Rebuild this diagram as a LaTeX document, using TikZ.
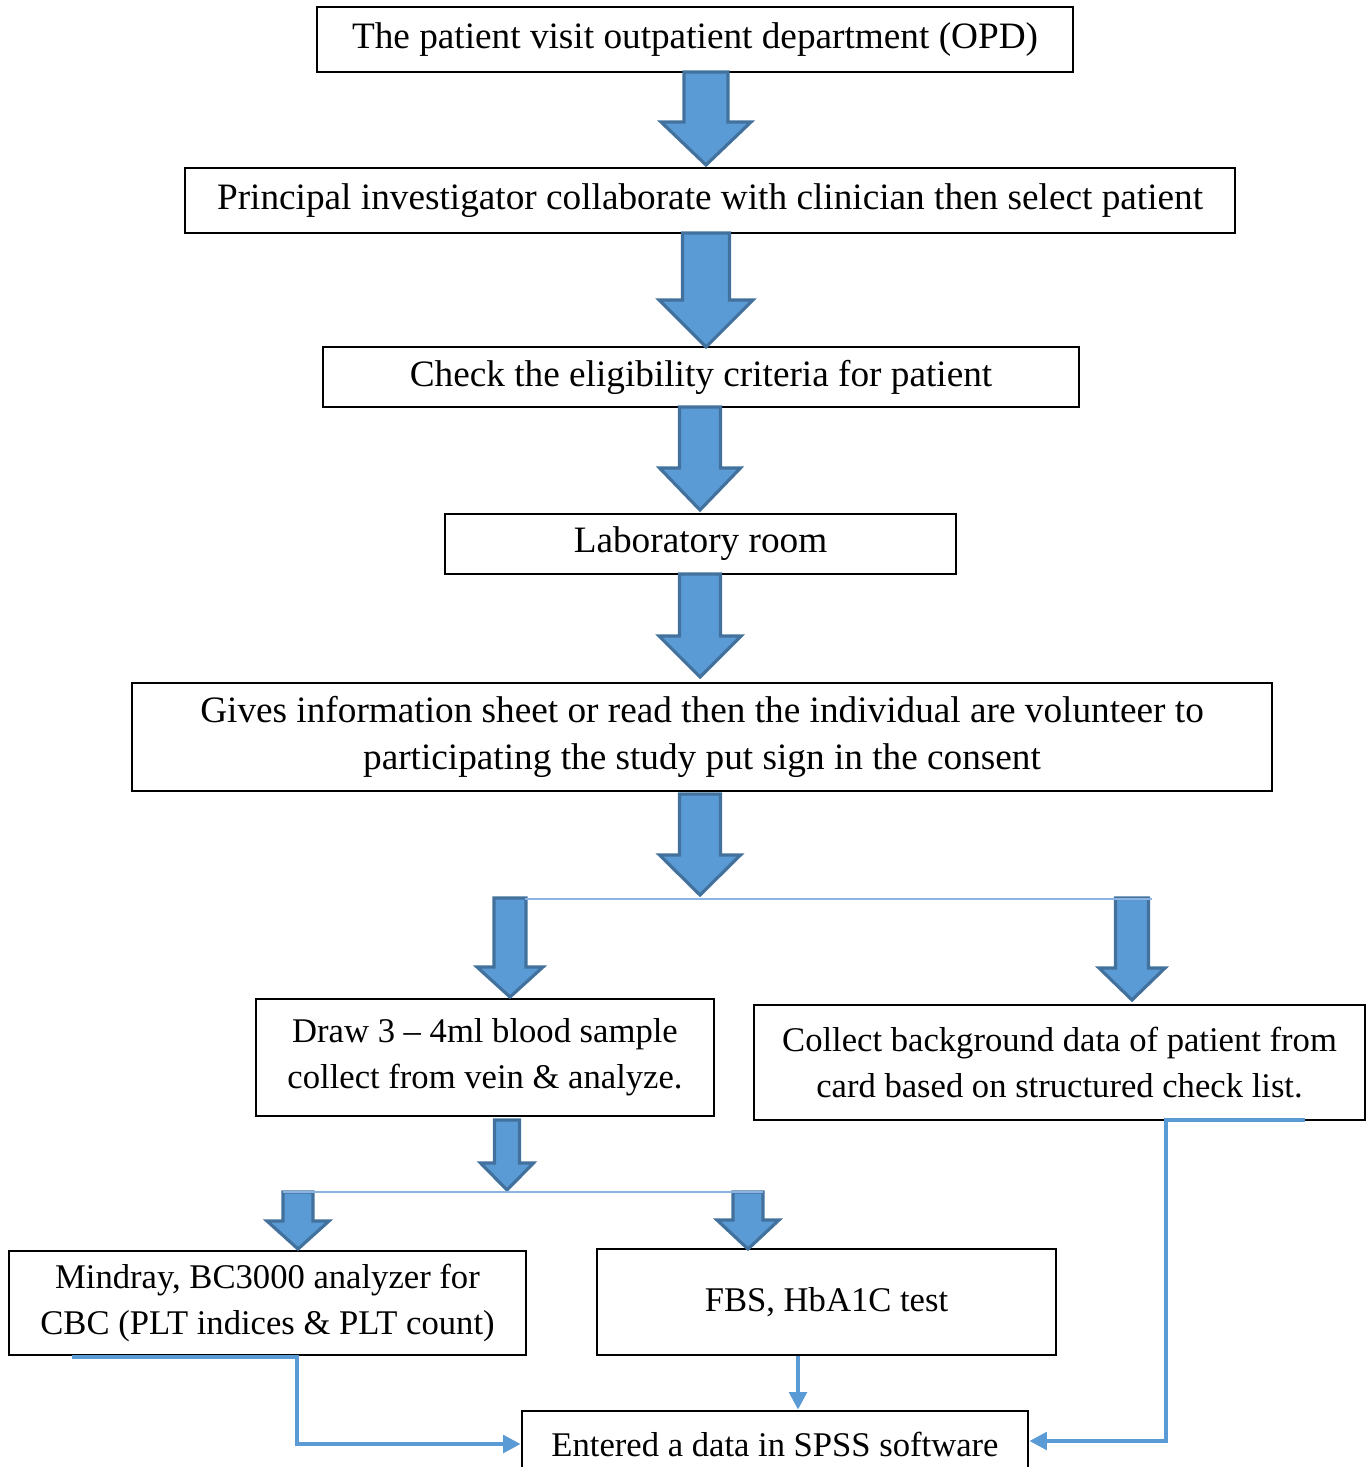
\documentclass[tikz,border=0pt]{standalone}
\usepackage{fontspec}
\setmainfont{Liberation Serif}
\usetikzlibrary{arrows.meta,calc}
\definecolor{arrowblue}{HTML}{5B9BD5}
\definecolor{arrowedge}{HTML}{41719C}
\definecolor{splitblue}{HTML}{8DB3E2}
\begin{document}
\begin{tikzpicture}[
  stepbox/.style={draw, line width=0.8pt, inner sep=0pt, align=center,
    font=\fontsize{10.6}{13.4}\selectfont},
  smallbox/.style={stepbox, font=\fontsize{9.85}{13.1}\selectfont},
  bigarrow/.style={fill=arrowblue, draw=arrowedge, line width=0.9pt, line join=miter},
  link/.style={draw=arrowblue, line width=1.1pt, -{Triangle[length=5pt,width=5pt]}},
  split/.style={draw=splitblue, line width=0.6pt}]
\useasboundingbox (0,0) rectangle (13.67,-14.67);

% boxes
\node [stepbox, minimum width=7.56cm, minimum height=0.65cm] (opd) at (6.95,-0.395)
  {The patient visit outpatient department (OPD)};
\node [stepbox, minimum width=10.50cm, minimum height=0.65cm] (select) at (7.10,-2.005)
  {Principal investigator collaborate with clinician then select patient};
\node [stepbox, minimum width=7.56cm, minimum height=0.60cm] (check) at (7.01,-3.77)
  {Check the eligibility criteria for patient};
\node [stepbox, minimum width=5.11cm, minimum height=0.60cm] (lab) at (7.005,-5.44)
  {Laboratory room};
\node [stepbox, minimum width=11.40cm, minimum height=1.08cm] (consent) at (7.02,-7.37)
  {Gives information sheet or read then the individual are volunteer to\\
   participating the study put sign in the consent};
\node [smallbox, minimum width=4.58cm, minimum height=1.17cm] (blood) at (4.85,-10.575)
  {Draw 3 -- 4ml blood sample\\ collect from vein \& analyze.};
\node [smallbox, minimum width=6.11cm, minimum height=1.15cm] (backgr) at (10.595,-10.625)
  {Collect background data of patient from\\ card based on structured check list.};
\node [smallbox, minimum width=5.17cm, minimum height=1.04cm] (mindray) at (2.675,-13.03)
  {Mindray, BC3000 analyzer for\\ CBC (PLT indices \& PLT count)};
\node [smallbox, minimum width=4.59cm, minimum height=1.06cm] (fbs) at (8.265,-13.02)
  {FBS, HbA1C test};
\node [smallbox, minimum width=5.06cm, minimum height=0.66cm] (spss) at (7.75,-14.44)
  {Entered a data in SPSS software};

% block arrows
\foreach \x/\yt/\yb/\s/\h/\hs in {
  7.06/-0.72/-1.65/0.22/0.45/-1.22,
  7.06/-2.33/-3.47/0.235/0.47/-3.00,
  7.00/-4.07/-5.10/0.205/0.405/-4.68,
  7.00/-5.74/-6.77/0.205/0.41/-6.36,
  7.00/-7.94/-8.95/0.205/0.405/-8.55,
  5.10/-8.98/-9.97/0.16/0.33/-9.67,
  11.32/-8.98/-10.00/0.165/0.33/-9.68,
  5.07/-11.20/-11.90/0.125/0.265/-11.63,
  2.98/-11.92/-12.49/0.15/0.31/-12.21,
  7.48/-11.92/-12.49/0.15/0.31/-12.20}
  \draw [bigarrow] ({\x-\s},\yt) -- ({\x+\s},\yt) -- ({\x+\s},\hs) -- ({\x+\h},\hs)
    -- (\x,\yb) -- ({\x-\h},\hs) -- ({\x-\s},\hs) -- cycle;

\draw [split] (5.25,-8.99) -- (11.52,-8.99);
\draw [split] (2.83,-11.92) -- (7.63,-11.92);

% connectors to SPSS
\coordinate (mstart) at (0.72,-13.57);
\coordinate (mbend) at (2.97,-13.57);
\draw [link] (mstart) -- (mbend) |- (spss.west);
\coordinate (fbsout) at ($(fbs.south)+(-0.285,0)$);
\draw [link] (fbsout) -- (fbsout |- spss.north);
\coordinate (cstart) at (13.05,-11.20);
\coordinate (cbend) at (11.66,-11.20);
\draw [link] (cstart) -- (cbend) |- ($(spss.east)+(0,0.03)$);
\end{tikzpicture}
\end{document}
